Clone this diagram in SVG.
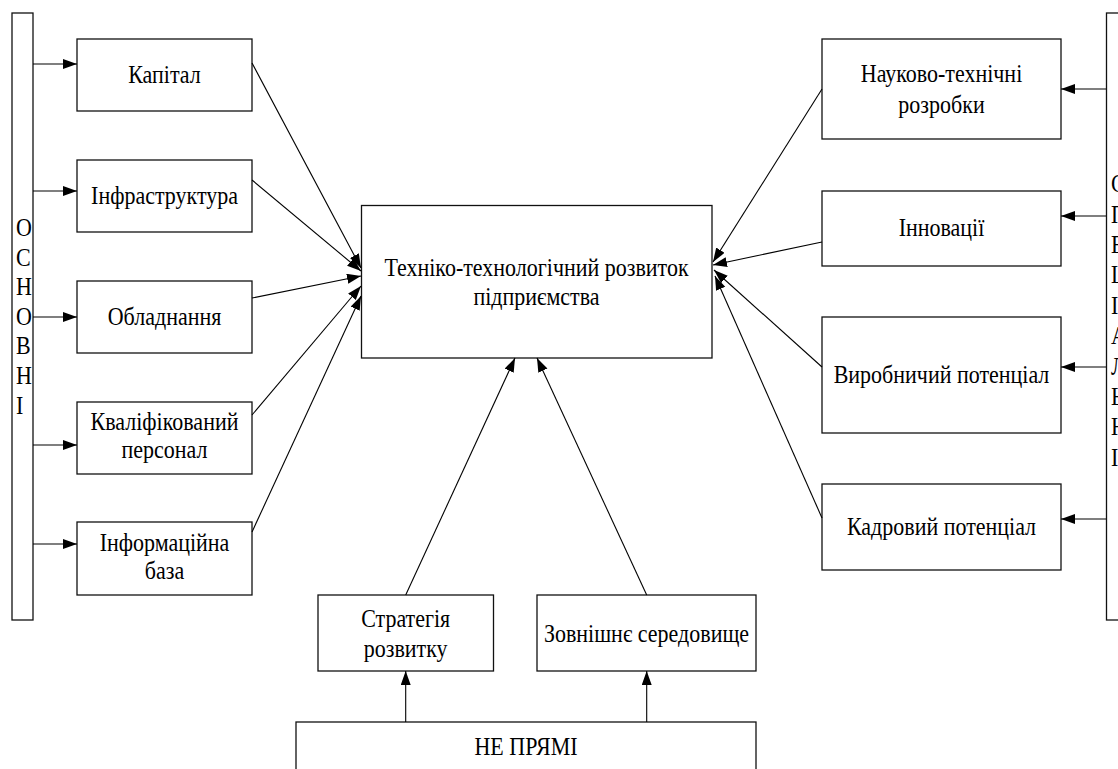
<svg xmlns="http://www.w3.org/2000/svg" width="1118" height="769" viewBox="0 0 1118 769">
<style>
.box{fill:#fff;stroke:#111;stroke-width:1.3}
text{font-family:"Liberation Serif","Times New Roman",serif;font-size:22px;fill:#000}
.t{text-anchor:middle}
.c{stroke:#000;stroke-width:1.1;fill:none;marker-end:url(#ah)}
</style>
<defs>
<marker id="ah" markerUnits="userSpaceOnUse" markerWidth="15" markerHeight="11" refX="14" refY="5" orient="auto">
<path d="M0,0 L14,5 L0,10 z" fill="#000"/>
</marker>
</defs>
<rect width="1118" height="769" fill="#fff"/>

<g id="bar-left">
<rect class="box" x="12" y="13" width="21" height="607"/>
<text transform="translate(16,236) scale(1,1.12)">О</text>
<text transform="translate(16,265.6) scale(1,1.12)">С</text>
<text transform="translate(16,295.2) scale(1,1.12)">Н</text>
<text transform="translate(16,324.8) scale(1,1.12)">О</text>
<text transform="translate(16,354.4) scale(1,1.12)">В</text>
<text transform="translate(16,384) scale(1,1.12)">Н</text>
<text transform="translate(16,413.6) scale(1,1.12)">І</text>
</g>

<g id="bar-right">
<rect class="box" x="1106.5" y="13" width="21" height="607"/>
<text transform="translate(1111,192) scale(1,1.12)">С</text>
<text transform="translate(1111,222.5) scale(1,1.12)">П</text>
<text transform="translate(1111,253) scale(1,1.12)">Е</text>
<text transform="translate(1111,283) scale(1,1.12)">Ц</text>
<text transform="translate(1111,314) scale(1,1.12)">І</text>
<text transform="translate(1111,344) scale(1,1.12)">А</text>
<text transform="translate(1111,375) scale(1,1.12)">Л</text>
<text transform="translate(1111,405) scale(1,1.12)">Ь</text>
<text transform="translate(1111,435) scale(1,1.12)">Н</text>
<text transform="translate(1111,466) scale(1,1.12)">І</text>
</g>

<g id="kapital"><rect class="box" x="77" y="39" width="175" height="72"/><text class="t" transform="translate(164.5,83) scale(1,1.12)">Капітал</text></g>
<g id="infrastruktura"><rect class="box" x="77" y="160" width="175" height="72"/><text class="t" transform="translate(164.5,204) scale(1,1.12)">Інфраструктура</text></g>
<g id="obladnannya"><rect class="box" x="77" y="281" width="175" height="72"/><text class="t" transform="translate(164.5,325) scale(1,1.12)">Обладнання</text></g>
<g id="personal"><rect class="box" x="77" y="402" width="175" height="72"/><text class="t" transform="translate(164.5,430) scale(1,1.12)">Кваліфікований</text><text class="t" transform="translate(164.5,458) scale(1,1.12)">персонал</text></g>
<g id="infobaza"><rect class="box" x="77" y="522" width="175" height="73"/><text class="t" transform="translate(164.5,551) scale(1,1.12)">Інформаційна</text><text class="t" transform="translate(164.5,579) scale(1,1.12)">база</text></g>

<g id="center"><rect class="box" x="361.5" y="205.5" width="350.5" height="152.5"/><text class="t" transform="translate(536.5,276) scale(1,1.12)">Техніко-технологічний розвиток</text><text class="t" transform="translate(536.5,305) scale(1,1.12)">підприємства</text></g>

<g id="nauka"><rect class="box" x="822" y="39" width="239" height="100"/><text class="t" transform="translate(941.5,82) scale(1,1.12)">Науково-технічні</text><text class="t" transform="translate(941.5,113) scale(1,1.12)">розробки</text></g>
<g id="innovatsii"><rect class="box" x="822" y="191" width="239" height="75"/><text class="t" transform="translate(941.5,236) scale(1,1.12)">Інновації</text></g>
<g id="vyrobnychyi"><rect class="box" x="822" y="317" width="239" height="116"/><text class="t" transform="translate(941.5,383) scale(1,1.12)">Виробничий потенціал</text></g>
<g id="kadrovyi"><rect class="box" x="822" y="484" width="239" height="86"/><text class="t" transform="translate(941.5,535) scale(1,1.12)">Кадровий потенціал</text></g>

<g id="strategiya"><rect class="box" x="318" y="595" width="175.5" height="76"/><text class="t" transform="translate(405.7,627) scale(1,1.12)">Стратегія</text><text class="t" transform="translate(405.7,657) scale(1,1.12)">розвитку</text></g>
<g id="seredovyshche"><rect class="box" x="537" y="595" width="219" height="76"/><text class="t" transform="translate(646.5,642) scale(1,1.12)">Зовнішнє середовище</text></g>
<g id="ne-pryami"><rect class="box" x="296" y="722" width="460" height="70"/><text class="t" transform="translate(526,755) scale(1,1.12)">НЕ ПРЯМІ</text></g>

<g id="connectors">
<line class="c" x1="33" y1="64" x2="77" y2="64"/>
<line class="c" x1="33" y1="191" x2="77" y2="191"/>
<line class="c" x1="33" y1="317" x2="77" y2="317"/>
<line class="c" x1="33" y1="445" x2="77" y2="445"/>
<line class="c" x1="33" y1="544" x2="77" y2="544"/>
<line class="c" x1="1106" y1="89" x2="1061" y2="89"/>
<line class="c" x1="1106" y1="216" x2="1061" y2="216"/>
<line class="c" x1="1106" y1="367" x2="1061" y2="367"/>
<line class="c" x1="1106" y1="519" x2="1061" y2="519"/>
<line class="c" x1="252" y1="63" x2="361" y2="268"/>
<line class="c" x1="252" y1="180" x2="361" y2="271"/>
<line class="c" x1="252" y1="298" x2="361" y2="276"/>
<line class="c" x1="252" y1="415" x2="361" y2="286"/>
<line class="c" x1="252" y1="532" x2="361" y2="296"/>
<line class="c" x1="822" y1="89" x2="713" y2="262"/>
<line class="c" x1="822" y1="242" x2="713" y2="265"/>
<line class="c" x1="822" y1="367" x2="714" y2="270"/>
<line class="c" x1="822" y1="518" x2="715" y2="276"/>
<line class="c" x1="405.7" y1="595" x2="515" y2="358"/>
<line class="c" x1="646.7" y1="595" x2="537" y2="358"/>
<line class="c" x1="405.7" y1="722" x2="405.7" y2="671"/>
<line class="c" x1="646.7" y1="722" x2="646.7" y2="671"/>
</g>
</svg>
